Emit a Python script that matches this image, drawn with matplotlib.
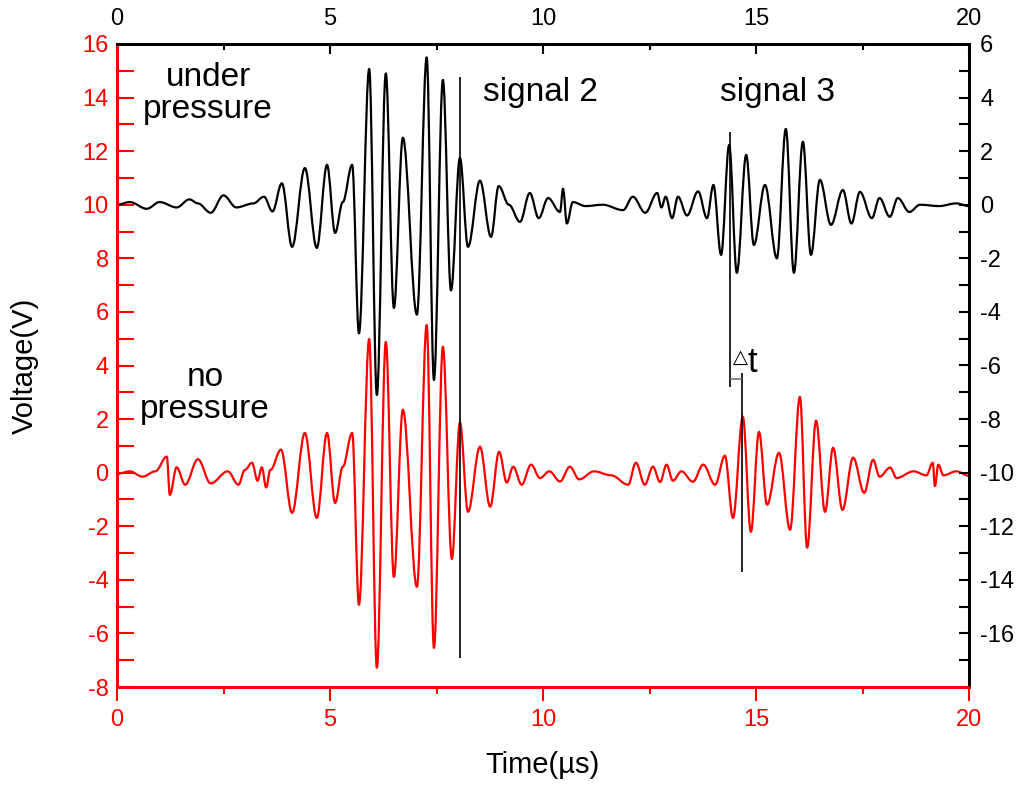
import matplotlib
matplotlib.use("Agg")
import matplotlib.pyplot as plt
from matplotlib.ticker import MultipleLocator
from matplotlib.path import Path
from matplotlib.patches import PathPatch

plt.rcParams["axes.unicode_minus"] = False
REG = "Liberation Sans"

# ---- data ----
# "no pressure" trace (red), left axis, volts
t_red = [0.0, 0.3, 0.6, 0.9, 1.17, 1.24, 1.4, 1.6, 1.9, 2.2, 2.6, 2.85, 3.0, 3.17, 3.3, 3.4, 3.5, 3.6,
         3.85, 4.11, 4.41, 4.69, 4.93, 5.12, 5.3, 5.52, 5.68, 5.92, 6.10, 6.31, 6.50, 6.71, 7.04, 7.27,
         7.44, 7.65, 7.86, 8.05, 8.24, 8.52, 8.76, 8.97, 9.15, 9.30, 9.50, 9.72, 9.93, 10.15, 10.4,
         10.63, 10.85, 11.2, 11.6, 12.0, 12.18, 12.39, 12.58, 12.75, 12.9, 13.05, 13.25, 13.52, 13.76,
         14.04, 14.27, 14.46, 14.69, 14.88, 15.07, 15.26, 15.54, 15.80, 16.03, 16.20, 16.41, 16.62,
         16.81, 17.03, 17.28, 17.54, 17.75, 17.90, 18.15, 18.3, 18.7, 19.0, 19.15, 19.2, 19.28, 19.4,
         19.7, 20.0]
v_red = [-0.05, 0.05, -0.15, 0.05, 0.6, -0.83, 0.2, -0.45, 0.5, -0.4, 0.05, -0.45, 0.1, 0.37, -0.3,
         0.2, -0.55, 0.1, 0.86, -1.5, 1.48, -1.69, 1.48, -1.13, 0.22, 1.48, -4.93, 4.99, -7.28, 4.88,
         -3.89, 2.35, -4.26, 5.51, -6.54, 4.7, -3.22, 1.87, -1.46, 0.97, -1.27, 0.78, -0.37, 0.22,
         -0.45, 0.3, -0.2, 0.05, -0.33, 0.22, -0.25, 0.05, -0.1, -0.45, 0.37, -0.45, 0.22, -0.35, 0.3,
         -0.3, 0.05, -0.34, 0.3, -0.45, 0.63, -1.69, 2.09, -2.21, 1.52, -1.2, 0.74, -2.13, 2.83, -2.8,
         1.94, -1.46, 0.93, -1.39, 0.56, -0.75, 0.48, -0.15, 0.19, -0.2, 0.05, -0.1, 0.37, -0.5, 0.3,
         -0.1, 0.05, -0.12]

# "under pressure" trace (black), right axis, volts
t_blk = [0.0, 0.3, 0.7, 1.0, 1.4, 1.7, 1.9, 2.2, 2.5, 2.8, 3.2, 3.45, 3.65,
         3.87, 4.11, 4.41, 4.69, 4.93, 5.12, 5.30, 5.52, 5.68, 5.92, 6.10, 6.31, 6.50, 6.71, 7.04,
         7.27, 7.44, 7.65, 7.84, 8.05, 8.24, 8.52, 8.78, 8.96, 9.20, 9.46, 9.69, 9.90, 10.12, 10.40,
         10.47, 10.56, 10.7, 11.0, 11.4, 11.88, 12.11, 12.40, 12.68, 12.78, 12.88, 13.03, 13.17, 13.38,
         13.64, 13.85, 14.00, 14.18, 14.37, 14.55, 14.77, 14.95, 15.21, 15.49, 15.70, 15.89, 16.10,
         16.29, 16.50, 16.76, 17.04, 17.24, 17.44, 17.72, 17.90, 18.14, 18.33, 18.60, 18.85, 19.3,
         19.7, 20.0]
v_blk = [0.0, 0.1, -0.15, 0.1, -0.1, 0.2, 0.05, -0.3, 0.35, -0.1, 0.05, 0.3, -0.25,
         0.8, -1.57, 1.37, -1.61, 1.49, -1.05, 0.1, 1.49, -4.8, 5.07, -7.1, 4.9, -3.85, 2.5, -4.1,
         5.5, -6.54, 4.66, -3.2, 1.75, -1.57, 0.9, -1.2, 0.7, 0.0, -0.64, 0.44, -0.5, 0.25, -0.27,
         0.6, -0.7, 0.1, -0.05, 0.0, -0.2, 0.3, -0.3, 0.44, -0.1, 0.3, -0.5, 0.3, -0.4,
         0.5, -0.5, 0.74, -1.87, 2.23, -2.54, 1.86, -1.5, 0.74, -2.0, 2.83, -2.54, 2.35, -1.87,
         0.93, -0.75, 0.55, -0.7, 0.48, -0.5, 0.25, -0.45, 0.25, -0.27, 0.0, -0.05, 0.05, -0.05]

# marker lines (time, lower, upper) in left-axis volts
sig2_line = (8.05, -6.9, 14.76)
dt_left = (14.38, 3.2, 12.7)
dt_right = (14.68, -3.7, 3.72)
dt_bar_y = 3.5

left_ticks = list(range(-8, 17, 2))
right_ticks = list(range(-16, 7, 2))
x_ticks = [0, 5, 10, 15, 20]

RED = "#ff0000"
TICK_FS = 17


def smooth_trace(a, ts, vs, color, lw):
    """Draw the read extrema as one smooth curve (horizontal tangent at each extremum)."""
    verts = [(ts[0], vs[0])]
    codes = [Path.MOVETO]
    for i in range(1, len(ts)):
        d = (ts[i] - ts[i - 1]) * 0.36
        verts += [(ts[i - 1] + d, vs[i - 1]), (ts[i] - d, vs[i]), (ts[i], vs[i])]
        codes += [Path.CURVE4, Path.CURVE4, Path.CURVE4]
    a.add_patch(PathPatch(Path(verts, codes), fill=False, edgecolor=color, lw=lw,
                          zorder=3, joinstyle="round"))


fig = plt.figure(figsize=(10.24, 7.92), dpi=100)
ax = fig.add_axes([117 / 1024, 1 - 687 / 792, (969 - 117) / 1024, (687 - 44) / 792])
ax2 = ax.twinx()
ax3 = ax.twiny()

smooth_trace(ax, t_red, v_red, RED, 1.6)
smooth_trace(ax2, t_blk, v_blk, "black", 1.6)

ax.set_xlim(0, 20)
ax.set_ylim(-8, 16)
ax2.set_ylim(-18, 6)
ax3.set_xlim(0, 20)

ax.vlines(sig2_line[0], sig2_line[1], sig2_line[2], color="black", lw=1.2, zorder=4)
ax.vlines(dt_left[0], dt_left[1], dt_left[2], color="black", lw=1.2, zorder=4)
ax.vlines(dt_right[0], dt_right[1], dt_right[2], color="black", lw=1.2, zorder=4)
ax.hlines(dt_bar_y, dt_left[0], dt_right[0], color="#777777", lw=1.2, zorder=4)

# spines
for a in (ax, ax2, ax3):
    for s in ("left", "bottom"):
        a.spines[s].set_color(RED)
        a.spines[s].set_linewidth(2)
    for s in ("right", "top"):
        a.spines[s].set_color("black")
        a.spines[s].set_linewidth(2)

# ticks
ax.set_yticks(left_ticks)
ax.yaxis.set_minor_locator(MultipleLocator(1))
ax.set_xticks(x_ticks)
ax.xaxis.set_minor_locator(MultipleLocator(2.5))
ax.tick_params(axis="y", which="both", direction="in", length=12, width=1.5,
               colors=RED, labelsize=TICK_FS, pad=6)
ax.tick_params(axis="x", which="major", direction="out", length=10, width=1.5,
               colors=RED, labelsize=TICK_FS, pad=6)
ax.tick_params(axis="x", which="minor", direction="out", length=5, width=1.5, colors=RED)

ax2.set_yticks(right_ticks)
ax2.yaxis.set_minor_locator(MultipleLocator(1))
ax2.tick_params(axis="y", which="both", direction="in", length=7, width=1.5,
                colors="black", labelsize=TICK_FS, pad=8)

ax3.set_xticks(x_ticks)
ax3.xaxis.set_minor_locator(MultipleLocator(2.5))
ax3.tick_params(axis="x", which="major", direction="in", length=7, width=1.5,
                colors="black", labelsize=TICK_FS, pad=10)
ax3.tick_params(axis="x", which="minor", direction="in", length=4, width=1.5, colors="black")

for a in (ax, ax2, ax3):
    for lab in a.get_xticklabels() + a.get_yticklabels():
        lab.set_fontfamily(REG)

ax.set_xlabel("Time(µs)", fontsize=21, family=REG, color="black", labelpad=14)
ax.set_ylabel("Voltage(V)", fontsize=21, family=REG, color="black", labelpad=31)

# annotations
ax.text(2.14, 14.15, "under\npressure", fontsize=24, family=REG, ha="center", va="center",
        linespacing=1.02, zorder=5)
ax.text(2.07, 2.95, "no\npressure", fontsize=24, family=REG, ha="center", va="center",
        linespacing=1.02, zorder=5)
ax.text(9.93, 14.2, "signal 2", fontsize=24, family=REG, ha="center", va="center", zorder=5)
ax.text(15.5, 14.2, "signal 3", fontsize=24, family=REG, ha="center", va="center", zorder=5)
ax.text(14.45, 4.3, "△", fontsize=14, family="DejaVu Sans", ha="left", va="center", zorder=5)
ax.text(14.8, 4.1, "t", fontsize=25, family=REG, ha="left", va="center", zorder=5)

fig.savefig("out.png", dpi=100, facecolor="white")
